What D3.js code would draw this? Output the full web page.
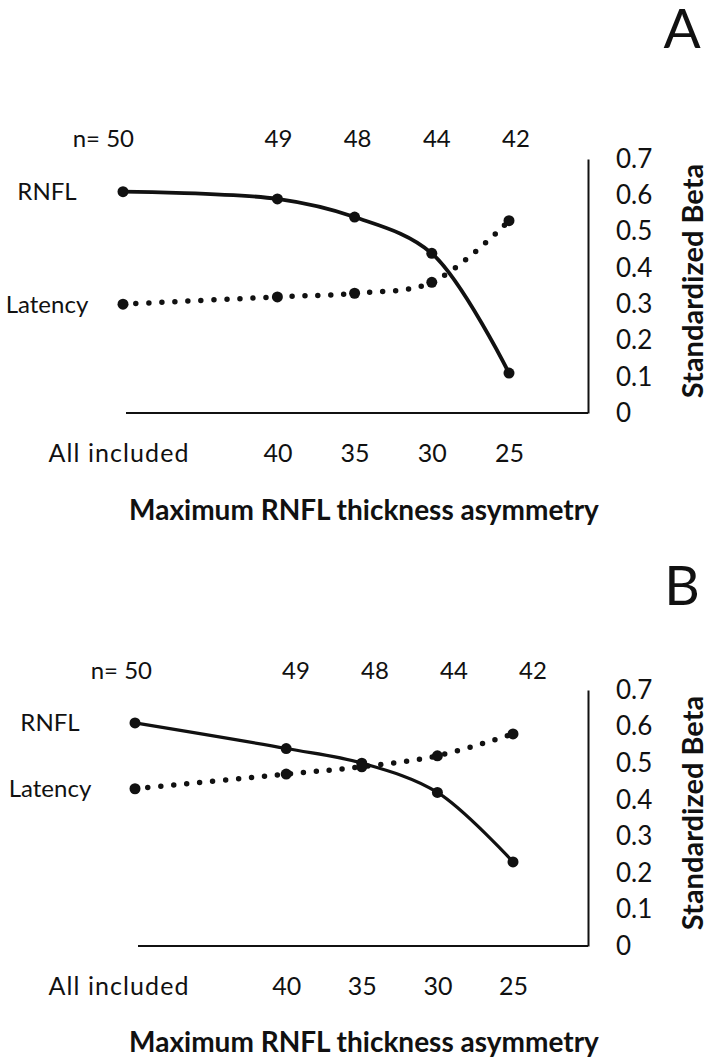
<!DOCTYPE html>
<html>
<head>
<meta charset="utf-8">
<script src="https://cdn.jsdelivr.net/npm/d3@7"></script>
<style>
body { margin: 0; background: #fff; }
text { font-family: Lato, "Open Sans", sans-serif; fill: #111; }
</style>
</head>
<body>
<svg id="chart" width="709" height="1058"></svg>
<script>
// cutoffs on the x axis, "All included" is put where 50 would be
var cutoffs = [50, 40, 35, 30, 25];
var cutoffLabels = ["All included", "40", "35", "30", "25"];
var nLabels = ["n= 50", "49", "48", "44", "42"];
var yTicks = [0, 0.1, 0.2, 0.3, 0.4, 0.5, 0.6, 0.7];
var yTickLabels = ["0", "0.1", "0.2", "0.3", "0.4", "0.5", "0.6", "0.7"];

// panel A
var rnflA = [0.61, 0.59, 0.54, 0.44, 0.11];
var latencyA = [0.30, 0.32, 0.33, 0.36, 0.53];
// panel B
var rnflB = [0.61, 0.54, 0.50, 0.42, 0.23];
var latencyB = [0.43, 0.47, 0.49, 0.52, 0.58];

var svg = d3.select("#chart");

var panels = [
    {letter: "A", letterY: 48, rnfl: rnflA, latency: latencyA,
     x0: 123, x1: 509, nx0: 120, nx1: 516, top: 159, bottom: 413,
     axisX: 588, nY: 139, titleY: 510, labelX: 47, lineW: 3.8},
    {letter: "B", letterY: 605, rnfl: rnflB, latency: latencyB,
     x0: 135, x1: 513, nx0: 138, nx1: 533, top: 690, bottom: 946,
     axisX: 588, nY: 671, titleY: 1042, labelX: 50, lineW: 3.2}
];

function draw_panel(p) {
    var g = svg.append("g");
    var x = d3.scaleLinear().domain([50, 25]).range([p.x0, p.x1]);
    var nx = d3.scaleLinear().domain([50, 25]).range([p.nx0, p.nx1]);
    var y = d3.scaleLinear().domain([0, 0.7]).range([p.bottom, p.top]);

    // panel letter
    g.append("text").attr("x", 682).attr("y", p.letterY)
     .attr("text-anchor", "middle").style("font-size", "55px").text(p.letter);

    // n row over the plot
    g.selectAll(".n").data(cutoffs).enter().append("text")
     .attr("x", function (d, i) { return i == 0 ? nx(d) + 14 : nx(d); })
     .attr("y", p.nY).attr("dy", "0.35em")
     .attr("text-anchor", function (d, i) { return i == 0 ? "end" : "middle"; })
     .style("font-size", "24px")
     .text(function (d, i) { return nLabels[i]; });

    // baseline
    g.append("line").attr("x1", p.x0 + 3).attr("x2", p.axisX)
     .attr("y1", p.bottom).attr("y2", p.bottom)
     .attr("stroke", "#111").attr("stroke-width", 2);

    // x labels
    var xAxis = d3.axisBottom(x).tickValues(cutoffs).tickSize(0).tickPadding(31)
                  .tickFormat(function (d, i) { return cutoffLabels[i]; });
    var xg = g.append("g").attr("transform", "translate(0," + p.bottom + ")").call(xAxis);
    xg.select(".domain").remove();
    xg.selectAll("text").style("font-size", "25px").attr("font-family", null);
    xg.selectAll(".tick").filter(function (d) { return d == 50; })
      .select("text").attr("x", 118 - p.x0)
      .attr("textLength", 140).attr("lengthAdjust", "spacing");

    // right axis
    var yAxis = d3.axisRight(y).tickValues(yTicks).tickSizeInner(0).tickSizeOuter(0)
                  .tickPadding(28)
                  .tickFormat(function (d, i) { return yTickLabels[i]; });
    var yg = g.append("g").attr("transform", "translate(" + p.axisX + ",0)").call(yAxis);
    yg.select(".domain").attr("stroke", "#111").attr("stroke-width", 2);
    yg.selectAll("text").style("font-size", "26px").attr("font-family", null);

    g.append("text")
     .attr("transform", "translate(703," + ((p.top + p.bottom) / 2 - 5) + ") rotate(-90)")
     .attr("text-anchor", "middle")
     .style("font-size", "29px").style("font-weight", "bold")
     .text("Standardized Beta");

    g.append("text").attr("x", 364).attr("y", p.titleY).attr("dy", "0.35em")
     .attr("text-anchor", "middle")
     .style("font-size", "28px").style("font-weight", "bold")
     .text("Maximum RNFL thickness asymmetry");

    var line = d3.line()
                 .x(function (d, i) { return x(cutoffs[i]); })
                 .y(function (d) { return y(d); })
                 .curve(d3.curveCatmullRom);

    // RNFL solid, latency dotted
    g.append("path").attr("d", line(p.rnfl)).attr("fill", "none")
     .attr("stroke", "#111").attr("stroke-width", p.lineW);
    g.append("path").attr("d", line(p.latency)).attr("fill", "none")
     .attr("stroke", "#111").attr("stroke-width", 5.5)
     .attr("stroke-linecap", "round").attr("stroke-dasharray", "0 13");

    [p.rnfl, p.latency].forEach(function (s) {
        g.selectAll(null).data(s).enter().append("circle")
         .attr("cx", function (d, i) { return x(cutoffs[i]); })
         .attr("cy", function (d) { return y(d); })
         .attr("r", 5.5).attr("fill", "#111");
    });

    // series names at the left
    g.append("text").attr("x", p.labelX).attr("y", y(p.rnfl[0])).attr("dy", "0.35em")
     .attr("text-anchor", "middle").style("font-size", "24px").text("RNFL");
    g.append("text").attr("x", p.labelX).attr("y", y(p.latency[0])).attr("dy", "0.35em")
     .attr("text-anchor", "middle").style("font-size", "24px").text("Latency");
}

panels.forEach(draw_panel);
</script>
</body>
</html>
